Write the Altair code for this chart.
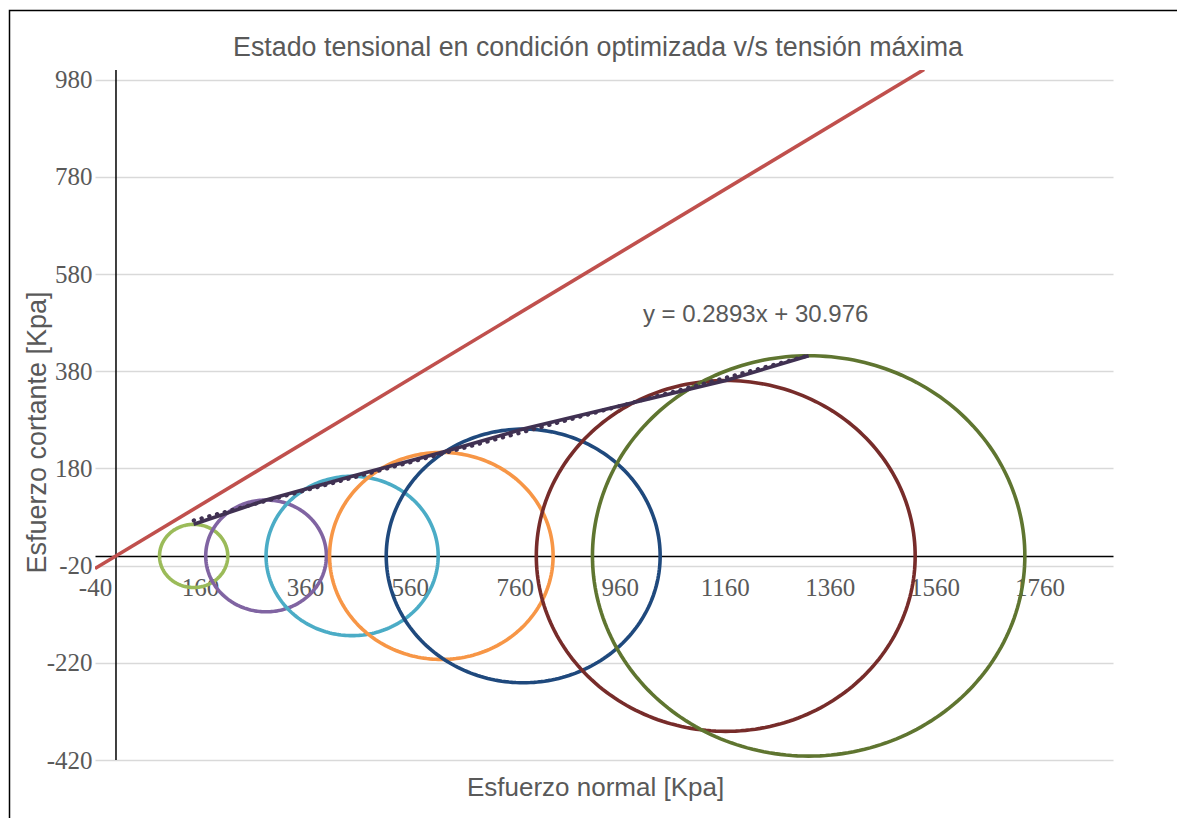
import numpy as np
import pandas as pd
import altair as alt

# ---- data ----
circle_names = ["C1", "C2", "C3", "C4", "C5", "C6", "C7"]
centers = [148, 286, 450, 620, 776, 1162, 1320]      # sigma centre [Kpa]
radii = [65, 115, 164, 213, 261, 361, 412]          # radius [Kpa]
circle_colors = ["#9BBB59", "#8064A2", "#4BACC6", "#F79646", "#1F497D", "#772C2A", "#5F7530"]

red_x = [-40, 1540]
red_y = [-26, 1001]

x_ticks = [-40, 160, 360, 560, 760, 960, 1160, 1360, 1560, 1760]
y_ticks = [-420, -220, -20, 180, 380, 580, 780, 980]
x_domain = [-40, 1900]
y_domain = [-420, 1000]

equation_text = "y = 0.2893x + 30.976"
eq_x, eq_y = 1219, 496

title_text = "Estado tensional en condición optimizada v/s tensión máxima"
x_title = "Esfuerzo normal [Kpa]"
y_title = "Esfuerzo cortante [Kpa]"

# ---- tables ----
theta = np.linspace(0, 2 * np.pi, 241)
rows = []
for n, c, r in zip(circle_names, centers, radii):
    for i, t in enumerate(theta):
        rows.append({"circle": n, "ord": i, "x": c + r * np.cos(t), "y": r * np.sin(t)})
circles_df = pd.DataFrame(rows)
tops_df = pd.DataFrame({"x": centers, "y": radii})
red_df = pd.DataFrame({"x": red_x, "y": red_y})
eq_df = pd.DataFrame({"x": [eq_x], "y": [eq_y], "t": [equation_text]})
vaxis_df = pd.DataFrame({"x": [0], "y": [y_domain[0]], "y2": [y_domain[1]]})
title_df = pd.DataFrame({"t": [title_text]})

W, H = 1018, 690
GRAY = "#595959"
x_offset = -(0 - y_domain[0]) / (y_domain[1] - y_domain[0]) * H
LBL = "'' + datum.value"

xscale = alt.Scale(domain=x_domain, nice=False, zero=False)
yscale = alt.Scale(domain=y_domain, nice=False, zero=False)

xaxis = alt.Axis(values=x_ticks, grid=False, ticks=False, tickSize=0, domain=True,
                 domainColor="black", domainWidth=1.5, offset=x_offset, labelExpr=LBL,
                 labelFont="Liberation Serif", labelFontSize=25, labelColor=GRAY,
                 labelPadding=20, labelFlush=False, labelOverlap=False,
                 titleFont="Liberation Sans", titleFontSize=26, titleColor=GRAY,
                 titleFontWeight="normal", titleX=500, titleY=232, titleBaseline="middle")
yaxis = alt.Axis(values=y_ticks, grid=True, gridColor="#D9D9D9", gridWidth=1.5,
                 ticks=False, domain=False, labelExpr=LBL,
                 labelFont="Liberation Serif", labelFontSize=25, labelColor=GRAY,
                 labelPadding=3, labelFlush=False, labelOverlap=False,
                 titleFont="Liberation Sans", titleFontSize=27, titleColor=GRAY,
                 titleFontWeight="normal", titleX=-58, titleY=362,
                 titleBaseline="middle", titleAlign="center")

X = alt.X("x:Q", scale=xscale, axis=xaxis, title=x_title)
Y = alt.Y("y:Q", scale=yscale, axis=yaxis, title=y_title)

border = alt.Chart(pd.DataFrame({"a": [0]})).mark_rect(
    fill="transparent", stroke="black", strokeWidth=1.5
).encode(x=alt.value(-85.5), x2=alt.value(1300), y=alt.value(-59.5), y2=alt.value(1000))

title = alt.Chart(title_df).mark_text(
    font="Liberation Sans", fontSize=26.8, color=GRAY, align="center", baseline="alphabetic"
).encode(x=alt.value(503), y=alt.value(-14), text="t:N")

vline = alt.Chart(vaxis_df).mark_rule(color="black", strokeWidth=1.5).encode(
    x=X, y=Y, y2="y2:Q")

circles = alt.Chart(circles_df).mark_line(strokeWidth=3.6).encode(
    x=X, y=Y, order="ord:Q",
    color=alt.Color("circle:N", scale=alt.Scale(domain=circle_names, range=circle_colors), legend=None),
)

red = alt.Chart(red_df).mark_line(color="#C0504D", strokeWidth=3.6, clip=True).encode(x=X, y=Y)

tangent = alt.Chart(tops_df).mark_line(color="#403152", strokeWidth=3.6).encode(x=X, y=Y)

trend = alt.Chart(tops_df).transform_regression("x", "y").mark_line(
    color="#403152", strokeWidth=4, strokeDash=[0.5, 7.5], strokeCap="round"
).encode(x=X, y=Y)

eq = alt.Chart(eq_df).mark_text(font="Liberation Sans", fontSize=24, color=GRAY,
                                align="center", baseline="middle").encode(x=X, y=Y, text="t:N")

chart = alt.layer(border, title, vline, circles, red, tangent, trend, eq).properties(
    width=W, height=H,
    padding={"left": 87, "top": 62, "right": 64, "bottom": 58},
    autosize=alt.AutoSizeParams(type="none"),
).configure_view(stroke=None)

chart.save("out.html", embed_options={"renderer": "svg", "actions": False})
